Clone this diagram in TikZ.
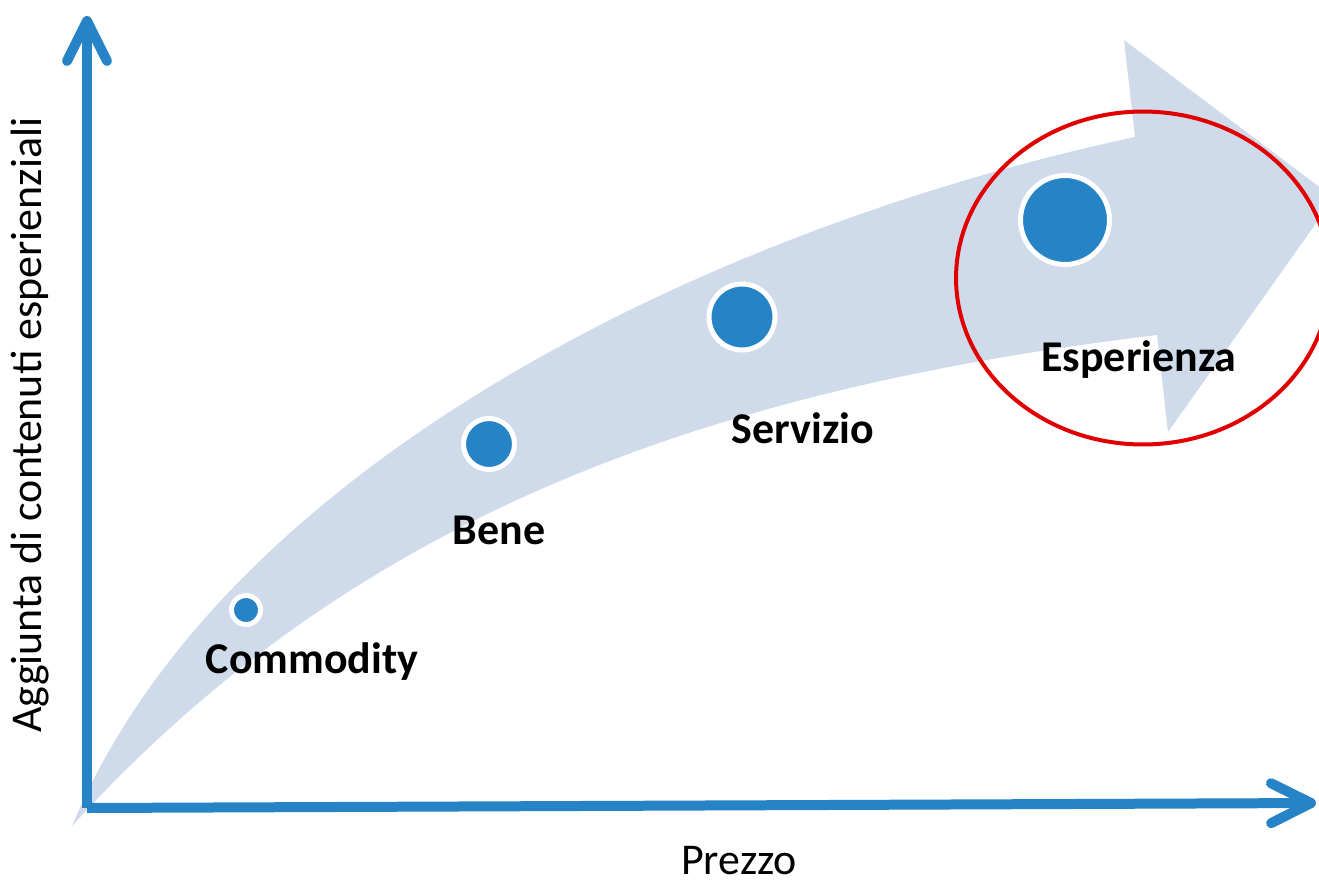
\documentclass[tikz,border=0pt]{standalone}
\usepackage{fontspec}
\setmainfont{Carlito}
\usetikzlibrary{arrows.meta,shapes.geometric}
\definecolor{axisblue}{HTML}{2683C6}
\definecolor{bandblue}{HTML}{CFDBEB}
\definecolor{ringred}{HTML}{E00000}
\begin{document}
\begin{tikzpicture}[x=0.02cm,y=-0.02cm,
    dot/.style={circle,fill=axisblue,draw=white,line width=0.1cm,inner sep=0pt},
    stage/.style={font=\bfseries\fontsize{25}{30}\selectfont},
    axislab/.style={font=\fontsize{25}{30}\selectfont},
    axis/.style={axisblue,line width=0.2cm,-{Straight Barb[round,length=0.8cm,width=0.8cm]}}]
    \useasboundingbox (0,0) rectangle (1319,890);
    % curved band
    \fill[bandblue] (72,826) .. controls (220,470) and (700,230) .. (1135,137)
        -- (1124,40) -- (1334,198) -- (1168,432) -- (1157,335)
        .. controls (700,390) and (350,520) .. (72,826) -- cycle;
    % axes
    \coordinate (origin) at (87,808);
    \coordinate (ytip) at (87,16);
    \coordinate (xtip) at (1316,803);
    \draw[axis] (origin) -- (ytip);
    \draw[axis] (origin) -- (xtip);
    \node[axislab,inner sep=0pt] (xlab) at (739,861) {Prezzo};
    \node[axislab,rotate=90] (ylab) at (30,425) {Aggiunta di contenuti esperienziali};
    % stages
    \node[ellipse,draw=ringred,line width=0.08cm,minimum width=7.48cm,minimum height=6.66cm,inner sep=0pt] (esp-ring) at (1143,278) {};
    \node[dot,minimum size=0.58cm] (commodity) at (246,610) {};
    \node[dot,minimum size=1.02cm] (bene) at (489,444) {};
    \node[dot,minimum size=1.32cm] (servizio) at (742,317) {};
    \node[dot,minimum size=1.78cm] (esperienza) at (1065,220) {};
    \node[stage] (commodity-lab) at (312,662) {Commodity};
    \node[stage] (bene-lab) at (499,530) {Bene};
    \node[stage] (servizio-lab) at (803,428) {Servizio};
    \node[stage] (esperienza-lab) at (1139,360) {Esperienza};
\end{tikzpicture}
\end{document}
